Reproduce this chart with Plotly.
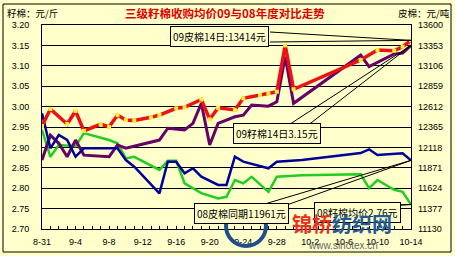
import plotly.graph_objects as go
from datetime import date

# ---------------- data ----------------
START = "2009-08-31"
END = "2009-10-14"

tick_labels = ["8-31", "9-4", "9-8", "9-12", "9-16", "9-20", "9-24",
               "9-28", "10-2", "10-6", "10-10", "10-14"]

# 09 lint (皮棉, yuan/ton, right axis) - red
lint09_dates = ["8-31", "9-1", "9-3", "9-4", "9-5", "9-7", "9-8", "9-9", "9-10",
                "9-11", "9-13", "9-14", "9-16", "9-17", "9-19", "9-20", "9-21",
                "9-23", "9-24", "9-26", "9-27", "9-28", "9-29", "9-30", "10-8",
                "10-10", "10-12", "10-13", "10-14"]
lint09_vals = [12377, 12583, 12401, 12559, 12317, 12401, 12365, 12510, 12450,
               12444, 12482, 12510, 12591, 12603, 12698, 12458, 12597,
               12571, 12712, 12752, 12773, 12792, 13353, 12822, 13176,
               13297, 13289, 13337, 13414]

# 09 seed cotton (籽棉, yuan/jin, left axis) - purple
seed09_dates = ["8-31", "9-1", "9-2", "9-3", "9-4", "9-5", "9-8", "9-9", "9-10",
                "9-14", "9-15", "9-17", "9-18", "9-19", "9-20", "9-21", "9-23",
                "9-24", "9-25", "9-27", "9-28", "9-29", "9-30", "10-8", "10-9",
                "10-12", "10-13", "10-14"]
seed09_vals = [2.869, 2.930, 2.910, 2.877, 2.918, 2.881, 2.877, 2.906, 2.898,
               2.918, 2.947, 2.943, 2.959, 3.008, 2.906, 2.959, 2.975,
               2.979, 3.004, 3.001, 3.012, 3.122, 3.008, 3.126, 3.098,
               3.129, 3.131, 3.150]

# 08 lint (皮棉, right axis) - blue
lint08_dates = ["8-31", "9-1", "9-2", "9-3", "9-4", "9-5", "9-9", "9-10", "9-11",
                "9-14", "9-15", "9-16", "9-17", "9-18", "9-19", "9-21", "9-22",
                "9-23", "9-24", "9-27", "9-28", "10-1", "10-8", "10-9", "10-10",
                "10-13", "10-14"]
lint08_vals = [12531, 12107, 12268, 12208, 12005, 12107, 12107, 11965, 11884,
               11562, 11945, 11945, 11804, 11865, 11763, 11663, 11663,
               12005, 11945, 11865, 11945, 11965, 12050, 12095, 12026,
               12047, 11961]

# 08 seed cotton (籽棉, left axis) - green
seed08_dates = ["8-31", "9-1", "9-2", "9-4", "9-5", "9-8", "9-9", "9-10", "9-11",
                "9-14", "9-15", "9-16", "9-17", "9-19", "9-21", "9-22", "9-23",
                "9-24", "9-25", "9-27", "9-28", "10-1", "10-8", "10-9", "10-10",
                "10-12", "10-13", "10-14"]
seed08_vals = [2.943, 2.877, 2.906, 2.903, 2.935, 2.918, 2.910, 2.873, 2.877,
               2.845, 2.867, 2.867, 2.812, 2.788, 2.775, 2.779, 2.820,
               2.812, 2.828, 2.791, 2.828, 2.832, 2.834, 2.800, 2.820,
               2.796, 2.791, 2.760]

left_ticks = [2.70, 2.75, 2.80, 2.85, 2.90, 2.95, 3.00, 3.05, 3.10, 3.15, 3.20]
right_ticks = [11130, 11377, 11624, 11871, 12118, 12365, 12612, 12859, 13106, 13353, 13600]

# ---------------- helpers ----------------
def md(s):
    m, d = s.split("-")
    return date(2009, int(m), int(d))

def iso(s):
    return md(s).isoformat()

d_start = date.fromisoformat(START)
d_end = date.fromisoformat(END)
span = (d_end - d_start).days

def px(s):
    return (md(s) - d_start).days / span

def py_left(v):
    return (v - left_ticks[0]) / (left_ticks[-1] - left_ticks[0])

def py_right(v):
    return (v - right_ticks[0]) / (right_ticks[-1] - right_ticks[0])

# plot area in pixels: x 42..411, y 25..229
PL, PR, PT, PB = 42, 411, 25, 229
def fx(xpix):
    return (xpix - PL) / (PR - PL)

def fy(ypix):
    return (PB - ypix) / (PB - PT)

BG = "#FFFFCC"
FONT = "Liberation Sans, Noto Sans CJK SC, sans-serif"
CJK = "Noto Sans CJK SC, sans-serif"

fig = go.Figure()

fig.add_trace(go.Scatter(x=[iso(s) for s in lint08_dates], y=lint08_vals, yaxis="y2",
                         mode="lines", line=dict(color="#000099", width=2.5),
                         name="08皮棉"))
fig.add_trace(go.Scatter(x=[iso(s) for s in seed08_dates], y=seed08_vals,
                         mode="lines", line=dict(color="#22CC22", width=2.5),
                         name="08籽棉"))
fig.add_trace(go.Scatter(x=[iso(s) for s in seed09_dates], y=seed09_vals,
                         mode="lines", line=dict(color="#660066", width=3),
                         name="09籽棉"))
fig.add_trace(go.Scatter(x=[iso(s) for s in lint09_dates], y=lint09_vals, yaxis="y2",
                         mode="lines+markers", line=dict(color="#EE1111", width=3.5),
                         marker=dict(color="#FFEE33", size=4, symbol="square"),
                         name="09皮棉"))

shapes = []
annotations = []

# outer border
shapes.append(dict(type="rect", xref="paper", yref="paper",
                   x0=fx(3), x1=fx(451), y0=fy(252), y1=fy(4),
                   line=dict(color="black", width=1), layer="above"))

def callout(text, cx, cy, starts, end):
    for (sx, sy) in starts:
        shapes.append(dict(type="line", xref="paper", yref="paper",
                           x0=fx(sx), y0=fy(sy), x1=end[0], y1=end[1],
                           line=dict(color="black", width=1), layer="above"))
    annotations.append(dict(text=text, x=fx(cx), y=fy(cy), xref="paper", yref="paper",
                            xanchor="center", yanchor="middle",
                            showarrow=False, bgcolor=BG, bordercolor="black",
                            borderwidth=1, borderpad=2,
                            font=dict(size=10, color="black", family=CJK)))

callout(f"09皮棉14日:{lint09_vals[-1]}元", 219, 36,
        [(270, 32), (270, 42)],
        (px(lint09_dates[-1]), py_right(lint09_vals[-1])))
callout(f"09籽棉14日{seed09_vals[-1]:.2f}元", 277, 133.5,
        [(287, 126), (307, 126)],
        (px(seed09_dates[-1]), py_left(seed09_vals[-1])))
callout(f"08皮棉同期{lint08_vals[-1]}元", 242, 213,
        [(258, 206), (284, 206)],
        (px(lint08_dates[-1]), py_right(lint08_vals[-1])))
callout(f"08籽棉均价{seed08_vals[-1]:.2f}元", 357, 212.5,
        [(360, 206), (385, 206)],
        (px(seed08_dates[-1]), py_left(seed08_vals[-1])))

# title and unit labels
annotations.append(dict(text="<b>三级籽棉收购均价09与08年度对比走势</b>", x=fx(225), y=fy(13),
                        xref="paper", yref="paper", showarrow=False,
                        xanchor="center", yanchor="middle",
                        font=dict(size=11.5, color="#DD0000", family=CJK)))
annotations.append(dict(text="籽棉：元/斤", x=fx(5), y=fy(13), xanchor="left", yanchor="middle",
                        xref="paper", yref="paper", showarrow=False,
                        font=dict(size=9.5, color="black", family=CJK)))
annotations.append(dict(text="皮棉：元/吨", x=fx(452), y=fy(13), xanchor="right", yanchor="middle",
                        xref="paper", yref="paper", showarrow=False,
                        font=dict(size=9.5, color="black", family=CJK)))

# watermark (site logo overlay in the reference)
shapes.append(dict(type="circle", xref="paper", yref="paper",
                   x0=fx(226), x1=fx(266), y0=fy(246), y1=fy(206),
                   line=dict(color="#1F4E8C", width=4), layer="above"))
annotations.append(dict(text="<b><span style='color:#E8301C'>锦桥</span>"
                             "<span style='color:#1F5A96'>纺织网</span></b>",
                        x=fx(342), y=fy(223), xanchor="center", yanchor="middle",
                        xref="paper", yref="paper", showarrow=False,
                        font=dict(size=20, family=CJK)))
annotations.append(dict(text="www.sinotex.cn", x=fx(343), y=fy(246),
                        xanchor="center", yanchor="middle",
                        xref="paper", yref="paper", showarrow=False,
                        font=dict(size=10, color="#666666", family=FONT)))

fig.update_layout(
    template="none",
    width=455, height=256,
    margin=dict(l=PL, r=455 - PR, t=PT, b=256 - PB, pad=0, autoexpand=False),
    paper_bgcolor=BG, plot_bgcolor=BG,
    showlegend=False,
    font=dict(family=FONT, size=9, color="black"),
    xaxis=dict(type="date", range=[START, END], automargin=False,
               tickvals=[iso(s) for s in tick_labels], ticktext=tick_labels,
               showgrid=False, showline=True, linecolor="black", linewidth=1,
               mirror=True, ticks="inside", ticklen=3, tickcolor="black",
               minor=dict(dtick=86400000, ticks="inside", ticklen=3,
                          tickcolor="black", showgrid=False),
               ticklabelstandoff=4, zeroline=False,
               tickfont=dict(size=9, family=FONT)),
    yaxis=dict(range=[left_ticks[0], left_ticks[-1]], tickvals=left_ticks, automargin=False,
               tickformat=".2f", showgrid=True, gridcolor="black", gridwidth=1,
               showline=True, linecolor="black", linewidth=1, mirror=True,
               ticks="", ticklabelstandoff=10, zeroline=False,
               tickfont=dict(size=9, family=FONT)),
    yaxis2=dict(range=[right_ticks[0], right_ticks[-1]], tickvals=right_ticks, automargin=False,
                tickformat="d",
                overlaying="y", side="right", showgrid=False, showline=False,
                ticks="", ticklabelstandoff=6, zeroline=False,
                tickfont=dict(size=9, family=FONT)),
    shapes=shapes,
    annotations=annotations,
)

fig.write_html("out.html")
